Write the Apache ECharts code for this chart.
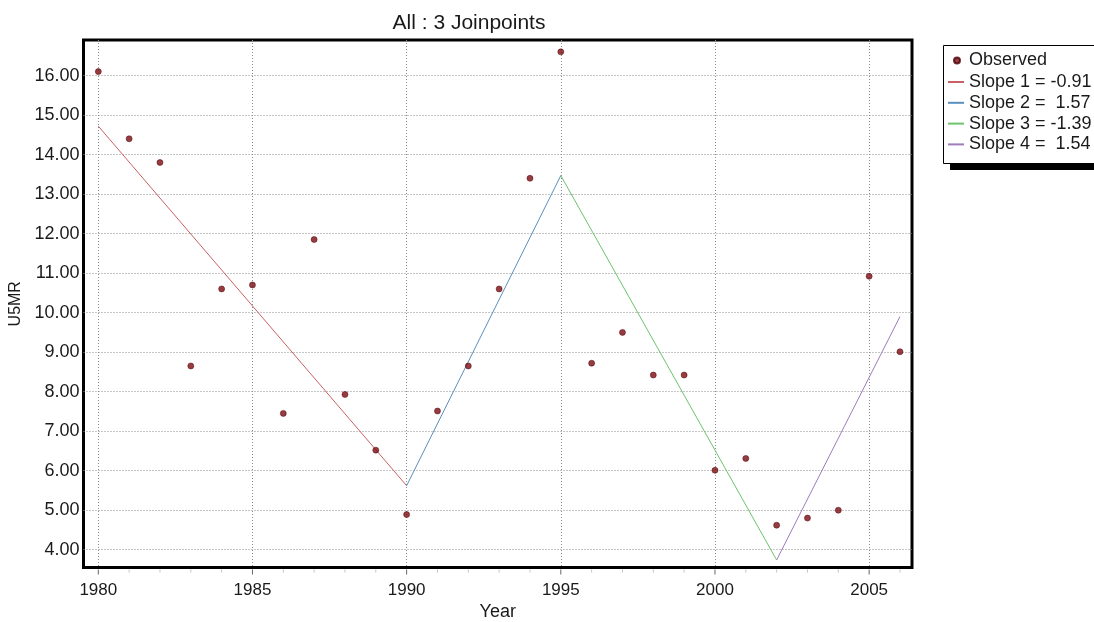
<!DOCTYPE html>
<html>
<head>
<meta charset="utf-8">
<script src="https://cdn.jsdelivr.net/npm/echarts@6/dist/echarts.min.js"></script>
<style>
  html, body { margin: 0; padding: 0; background: #ffffff; }
  #chart { width: 1094px; height: 622px; }
</style>
</head>
<body>
<div id="chart"></div>
<script>
// Observed under-5 mortality rate by year
const years = [1980, 1981, 1982, 1983, 1984, 1985, 1986, 1987, 1988, 1989,
               1990, 1991, 1992, 1993, 1994, 1995, 1996, 1997, 1998, 1999,
               2000, 2001, 2002, 2003, 2004, 2005, 2006];
const observed = [16.1, 14.4, 13.8, 8.65, 10.6, 10.7, 7.45, 11.85, 7.93, 6.52,
                  4.89, 7.51, 8.65, 10.6, 13.4, 16.6, 8.72, 9.5, 8.42, 8.42,
                  6.01, 6.31, 4.62, 4.8, 5.0, 10.92, 9.01];

// Joinpoint model: segment boundaries, fitted value at the first year, slopes
const joinYears = [1980, 1990, 1995, 2002, 2006];
const fitStart = 14.72;
const slopes = [-0.91, 1.57, -1.39, 1.54];
const slopeColors = ['#c96262', '#5b8fbd', '#6cc46c', '#a07cbc'];

const titleText = 'All : 3 Joinpoints';
const xName = 'Year';
const yName = 'U5MR';

// axis extents
const xMin = 1979.52, xMax = 2006.39;
const yMin = 3.55, yMax = 16.9;

const FONT = 'Liberation Sans';
const TXT = '#1a1a1a';

function slopeLabel(i) {
  const s = slopes[i];
  const v = (s >= 0 ? ' ' : '-') + Math.abs(s).toFixed(2);
  return 'Slope ' + (i + 1) + ' = ' + v;
}

// fitted segments built from the slopes
const segments = [];
let fv = fitStart;
for (let i = 0; i < slopes.length; i++) {
  const x0 = joinYears[i], x1 = joinYears[i + 1];
  const v1 = fv + slopes[i] * (x1 - x0);
  segments.push([[x0, fv], [x1, v1]]);
  fv = v1;
}

const chart = echarts.init(document.getElementById('chart'), null, { renderer: 'canvas' });

const series = [
  {
    name: 'Observed',
    type: 'scatter',
    data: years.map((y, i) => [y, observed[i]]),
    symbol: 'circle',
    symbolSize: 6,
    itemStyle: { color: '#7d0b10', borderColor: '#4a0006', borderWidth: 0.6 },
    z: 5,
    silent: true
  },
  // year ticks under the x axis
  {
    name: 'yearTicks',
    type: 'custom',
    clip: false,
    silent: true,
    data: years,
    encode: { x: 0 },
    renderItem: function (params, api) {
      const yr = api.value(0);
      const p = api.coord([yr, yMin]);
      const major = yr % 5 === 0;
      return {
        type: 'line',
        shape: { x1: p[0], y1: p[1] + 2, x2: p[0], y2: p[1] + (major ? 7 : 5) },
        style: { stroke: major ? '#666666' : '#c4c4c4', lineWidth: 1 }
      };
    },
    z: 1
  }
];
segments.forEach((seg, i) => {
  series.push({
    name: slopeLabel(i),
    type: 'line',
    data: seg,
    symbol: 'none',
    lineStyle: { color: slopeColors[i], width: 1 },
    itemStyle: { color: slopeColors[i] },
    z: 3,
    silent: true
  });
});

const option = {
  animation: false,
  backgroundColor: '#ffffff',
  title: {
    text: titleText,
    left: 464,
    textAlign: 'center',
    top: 8,
    textStyle: { fontFamily: FONT, fontSize: 21, fontWeight: 'normal', color: TXT }
  },
  grid: {
    left: 83.5, top: 40, width: 828.5, height: 527.5,
    show: true, borderColor: '#000000', borderWidth: 3,
    backgroundColor: '#ffffff',
    containLabel: false,
    outerBoundsMode: 'none'
  },
  legend: [
    {
      data: ['Observed'],
      orient: 'vertical',
      left: 953, top: 51.5,
      padding: 0,
      itemWidth: 14, itemHeight: 6,
      selectedMode: false,
      textStyle: { fontFamily: FONT, fontSize: 18, color: TXT }
    },
    {
      data: slopes.map((s, i) => ({
        name: slopeLabel(i),
        icon: 'rect',
        itemStyle: { color: slopeColors[i], borderWidth: 0 }
      })),
      orient: 'vertical',
      left: 948, top: 73,
      padding: 0,
      itemGap: 2.8,
      itemWidth: 16, itemHeight: 2,
      selectedMode: false,
      textStyle: { fontFamily: FONT, fontSize: 18, color: TXT }
    }
  ],
  graphic: [
    { type: 'rect', shape: { x: 950, y: 52, width: 200, height: 118 }, style: { fill: '#000000' }, z: -1, silent: true },
    { type: 'rect', shape: { x: 943.5, y: 45.5, width: 200, height: 118 }, style: { fill: '#ffffff', stroke: '#000000', lineWidth: 1 }, z: 0, silent: true }
  ],
  xAxis: {
    type: 'value',
    min: xMin, max: xMax,
    splitNumber: 5,
    name: xName,
    nameLocation: 'middle',
    nameGap: 34,
    nameTextStyle: { fontFamily: FONT, fontSize: 18, color: TXT },
    axisLine: { show: false },
    axisTick: { show: false },
    axisLabel: {
      margin: 14, showMinLabel: false, showMaxLabel: false,
      fontFamily: FONT, fontSize: 17, color: TXT,
      formatter: v => String(Math.round(v))
    },
    splitLine: { show: true, showMinLine: false, showMaxLine: false, lineStyle: { color: '#8c8c8c', type: [1, 2], width: 1 } }
  },
  yAxis: {
    type: 'value',
    min: yMin, max: yMax,
    splitNumber: 13,
    name: yName,
    nameLocation: 'middle',
    nameGap: 56,
    nameRotate: 90,
    nameTextStyle: { fontFamily: FONT, fontSize: 16, color: TXT },
    axisLine: { show: false },
    axisTick: { show: false },
    axisLabel: {
      margin: 4, showMinLabel: false, showMaxLabel: false,
      fontFamily: FONT, fontSize: 18, color: TXT,
      formatter: v => v.toFixed(2)
    },
    splitLine: { show: true, showMinLine: false, showMaxLine: false, lineStyle: { color: '#8c8c8c', type: [1, 2], width: 1 } }
  },
  series: series
};

chart.setOption(option);
</script>
</body>
</html>
